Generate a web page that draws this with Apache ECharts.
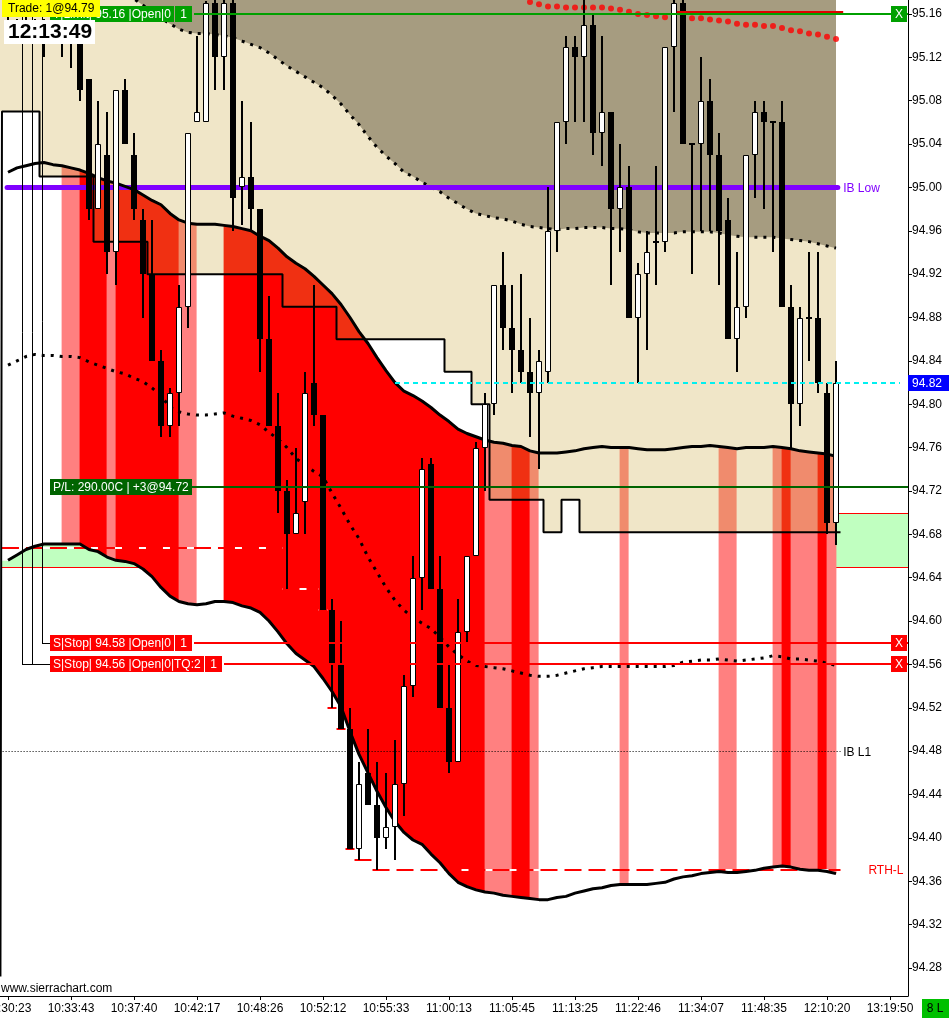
<!DOCTYPE html>
<html>
<head>
<meta charset="utf-8">
<title>Sierra Chart</title>
<script src="https://cdn.jsdelivr.net/npm/echarts@6.0.0/dist/echarts.min.js"></script>
<style>
html,body{margin:0;padding:0;background:#fff;overflow:hidden}
#chart{width:949px;height:1018px}
</style>
</head>
<body>
<div id="chart"></div>
<script>
// ================= DATA =================
const timeLabels = ['10:30:23','10:33:43','10:37:40','10:42:17','10:48:26','10:52:12','10:55:33','11:00:13','11:05:45','11:13:25','11:22:46','11:34:07','11:48:35','12:10:20','13:19:50'];
const timeLabelBars = [0,7,14,21,28,35,42,49,56,63,70,77,84,91,98];
const priceTicks = [94.28,94.32,94.36,94.40,94.44,94.48,94.52,94.56,94.60,94.64,94.68,94.72,94.76,94.80,94.84,94.88,94.92,94.96,95.00,95.04,95.08,95.12,95.16];

const opens = [
95.150,95.145,95.150,95.145,95.145,95.150,95.145,95.145,95.145,95.100,
94.980,95.030,94.940,95.090,95.030,94.970,94.920,94.840,94.780,94.810,
94.890,95.060,95.060,95.170,95.120,95.170,95.000,95.010,94.980,94.860,
94.780,94.720,94.680,94.710,94.820,94.790,94.610,94.560,94.500,94.390,
94.460,94.430,94.400,94.410,94.450,94.540,94.640,94.745,94.630,94.520,
94.470,94.590,94.660,94.760,94.800,94.910,94.870,94.850,94.830,94.810,
94.830,94.960,95.060,95.130,95.120,95.150,95.050,95.070,94.980,95.000,
94.880,94.920,94.950,94.950,95.130,95.170,95.040,95.040,95.080,95.030,
94.970,94.860,94.890,95.030,95.070,95.060,95.060,94.890,94.800,94.880,
94.880,94.810,94.690];
const highs = [
95.160,95.155,95.160,95.155,95.155,95.155,95.155,95.155,95.150,95.100,
95.080,95.070,95.090,95.100,95.050,94.980,94.970,94.850,94.815,94.910,
95.050,95.140,95.172,95.175,95.175,95.175,95.080,95.060,94.980,94.900,
94.810,94.730,94.760,94.830,94.910,94.790,94.620,94.600,94.520,94.470,
94.500,94.470,94.460,94.490,94.550,94.660,94.750,94.750,94.660,94.560,
94.620,94.660,94.765,94.810,94.910,94.940,94.910,94.920,94.880,94.850,
95.000,95.060,95.140,95.140,95.175,95.160,95.140,95.070,95.040,95.020,
94.930,94.960,95.020,95.130,95.175,95.175,95.040,95.120,95.100,95.050,
94.990,94.940,95.030,95.080,95.080,95.060,95.080,94.910,94.890,94.940,
94.940,94.820,94.840];
const lows = [
95.135,95.135,95.140,95.135,95.120,95.135,95.120,95.110,95.080,94.970,
94.980,94.920,94.910,95.040,94.970,94.880,94.840,94.770,94.770,94.780,
94.870,95.060,95.060,95.090,95.090,94.960,94.965,94.960,94.830,94.780,
94.700,94.630,94.680,94.680,94.780,94.610,94.520,94.500,94.390,94.380,
94.430,94.370,94.390,94.380,94.420,94.530,94.610,94.630,94.520,94.460,
94.470,94.580,94.660,94.720,94.790,94.850,94.810,94.820,94.770,94.740,
94.820,94.940,95.040,95.060,95.060,95.030,95.020,94.910,94.940,94.880,
94.820,94.850,94.910,94.940,95.070,95.040,94.920,94.960,94.960,94.910,
94.860,94.830,94.880,94.990,94.980,94.940,94.890,94.760,94.780,94.840,
94.810,94.680,94.670];
const closes = [
95.140,95.150,95.145,95.140,95.140,95.140,95.140,95.135,95.090,94.980,
95.040,94.940,95.090,95.040,94.980,94.920,94.840,94.780,94.810,94.890,
95.050,95.070,95.170,95.120,95.170,94.990,95.010,94.980,94.860,94.780,
94.720,94.680,94.700,94.810,94.790,94.610,94.560,94.500,94.390,94.450,
94.430,94.400,94.410,94.450,94.540,94.640,94.740,94.630,94.520,94.470,
94.590,94.660,94.760,94.800,94.910,94.870,94.850,94.830,94.810,94.840,
94.960,95.060,95.130,95.120,95.150,95.050,95.070,94.980,95.000,94.880,
94.920,94.940,94.950,95.130,95.170,95.040,95.040,95.080,95.030,94.960,
94.860,94.890,95.030,95.070,95.060,95.060,94.890,94.800,94.880,94.880,
94.820,94.690,94.820];

// upper solid band line (top of the coloured zone)
const bandUpper = [
95.014,95.018,95.020,95.022,95.023,95.021,95.020,95.018,95.016,95.013,
95.009,95.006,95.004,95.001,94.998,94.993,94.988,94.984,94.976,94.970,
94.967,94.966,94.966,94.966,94.965,94.964,94.962,94.960,94.955,94.951,
94.944,94.936,94.930,94.925,94.918,94.910,94.902,94.892,94.880,94.867,
94.856,94.843,94.831,94.820,94.812,94.808,94.803,94.797,94.790,94.784,
94.777,94.773,94.770,94.767,94.765,94.764,94.762,94.761,94.757,94.755,
94.755,94.755,94.756,94.757,94.759,94.760,94.761,94.760,94.760,94.760,
94.759,94.758,94.758,94.758,94.759,94.760,94.761,94.761,94.762,94.761,
94.760,94.759,94.760,94.760,94.760,94.761,94.760,94.759,94.757,94.756,
94.755,94.754,94.752];
// lower solid band line
const bandLower = [
94.656,94.661,94.666,94.669,94.671,94.671,94.671,94.671,94.671,94.666,
94.664,94.659,94.656,94.655,94.653,94.648,94.641,94.631,94.623,94.618,
94.616,94.615,94.616,94.618,94.618,94.617,94.614,94.612,94.608,94.600,
94.590,94.579,94.570,94.564,94.558,94.547,94.535,94.521,94.498,94.477,
94.460,94.443,94.428,94.415,94.405,94.398,94.394,94.385,94.377,94.367,
94.359,94.355,94.352,94.350,94.349,94.347,94.346,94.345,94.344,94.343,
94.343,94.345,94.346,94.349,94.351,94.353,94.354,94.356,94.357,94.357,
94.357,94.357,94.358,94.359,94.362,94.364,94.365,94.367,94.368,94.369,
94.368,94.368,94.369,94.370,94.372,94.373,94.374,94.373,94.371,94.370,
94.370,94.369,94.367];
// upper dotted line (boundary of the dark zone)
const upperDotted = [
95.233,95.230,95.227,95.225,95.222,95.218,95.215,95.211,95.206,95.202,
95.196,95.190,95.185,95.179,95.174,95.168,95.162,95.156,95.151,95.146,
95.143,95.142,95.142,95.141,95.140,95.138,95.135,95.132,95.129,95.124,
95.118,95.112,95.107,95.102,95.097,95.092,95.085,95.077,95.067,95.058,
95.047,95.037,95.029,95.022,95.014,95.010,95.005,95.000,94.996,94.990,
94.985,94.980,94.976,94.974,94.972,94.971,94.969,94.966,94.964,94.963,
94.962,94.961,94.962,94.962,94.963,94.963,94.963,94.962,94.962,94.961,
94.959,94.958,94.958,94.958,94.958,94.959,94.959,94.959,94.959,94.958,
94.956,94.955,94.954,94.954,94.954,94.954,94.953,94.952,94.951,94.950,
94.948,94.946,94.944];
// lower dotted line
const lowerDotted = [
94.836,94.840,94.844,94.846,94.845,94.845,94.844,94.844,94.843,94.839,
94.836,94.833,94.830,94.828,94.824,94.821,94.815,94.808,94.797,94.793,
94.791,94.790,94.790,94.791,94.792,94.789,94.787,94.785,94.781,94.774,
94.768,94.760,94.750,94.744,94.738,94.733,94.718,94.704,94.689,94.676,
94.659,94.645,94.631,94.619,94.610,94.603,94.598,94.593,94.585,94.576,
94.569,94.563,94.559,94.558,94.557,94.556,94.554,94.552,94.550,94.549,
94.549,94.550,94.552,94.554,94.556,94.557,94.558,94.558,94.558,94.558,
94.558,94.558,94.558,94.558,94.559,94.562,94.563,94.564,94.564,94.565,
94.564,94.563,94.564,94.565,94.566,94.568,94.567,94.565,94.565,94.564,
94.563,94.561,94.559];
// red dotted study (starts at bar 57)
const redDotsStart = 57;
const redDots = [95.173,95.171,95.169,95.167,95.167,95.166,95.166,95.166,95.166,95.166,
95.165,95.164,95.162,95.160,95.159,95.158,95.157,95.158,95.157,95.156,95.156,95.155,
95.154,95.153,95.151,95.150,95.150,95.149,95.149,95.147,95.145,95.144,95.142,95.141,95.139,95.137];
// step line (lower edge of the light zone)
const stepLevels = [
95.070,95.070,95.070,95.070,95.010,95.010,95.010,95.010,95.010,95.010,
94.950,94.950,94.950,94.950,94.950,94.950,94.920,94.920,94.920,94.920,
94.920,94.920,94.920,94.920,94.920,94.920,94.920,94.920,94.920,94.920,
94.920,94.890,94.890,94.890,94.890,94.890,94.890,94.860,94.860,94.860,
94.860,94.860,94.860,94.860,94.860,94.860,94.860,94.860,94.860,94.830,
94.830,94.830,94.800,94.800,94.712,94.712,94.712,94.712,94.712,94.712,
94.682,94.682,94.712,94.712,94.682,94.682,94.682,94.682,94.682,94.682,
94.682,94.682,94.682,94.682,94.682,94.682,94.682,94.682,94.682,94.682,
94.682,94.682,94.682,94.682,94.682,94.682,94.682,94.682,94.682,94.682,
94.682,94.682,94.682];
const stepPrevLevel = 94.272; // level before the first visible bar
// colour state of each segment between bar k and k+1 (0 none, 1 light, 2 strong)
const zoneState = [
0,0,0,0,0,0,1,1,2,2,2,1,2,2,2,2,2,2,2,1,1,0,0,0,
2,2,2,2,2,2,2,2,2,2,2,2,2,2,2,2,2,2,2,2,2,2,2,2,2,2,2,2,2,
1,1,1,2,2,1,
0,0,0,0,0,0,0,0,0,1,
0,0,0,0,0,0,0,0,0,0,1,1,0,0,0,0,1,2,1,1,1,2,1];
const greenZone = [94.70, 94.65];
const ibLow = 95.00, ibL1 = 94.48;
// running session low: [fromBar, toBar, price]
const runningLows = [[-0.67,30.5,94.667],[30.5,34.5,94.63],[34.5,35.5,94.61],[35.5,36.5,94.52],[36.5,37.5,94.50],[37.5,38.5,94.39],[38.5,40.5,94.38],[40.5,92.5,94.37]];
const orders = [
  {price:95.16, text:'T|Limit| 95.16 |Open|0', qty:'1', kind:'target'},
  {price:94.58, text:'S|Stop| 94.58 |Open|0', qty:'1', kind:'stop'},
  {price:94.56, text:'S|Stop| 94.56 |Open|0|TQ:2', qty:'1', kind:'stop'}
];
const position = {avg:94.7233, label:'P/L: 290.00C | +3@94.72'};
const lastPrice = 94.82;
const sessionHigh = {price:95.1618, fromBar:74.3, toBar:92.8};
const lastPriceLineFromBar = 43;
const tradeText = 'Trade: 1@94.79';
const clockText = '12:13:49';

// ================= CHART =================
const X_MIN = -8/9, X_MAX = 100;
const Y_MIN = 94.2541, Y_MAX = 95.1729;
const FONT = '12px "Liberation Sans"';
const zoneColors = ['#FFFFFF','#FF8080','#FF0000'];
const idx = opens.map((_, i) => i);
const mctx = document.createElement('canvas').getContext('2d');
function tw(t, f){ mctx.font = f; return mctx.measureText(t).width; }

const chart = echarts.init(document.getElementById('chart'), null, {renderer:'canvas', width:949, height:1018});

const zoneData = [[X_MIN+0.22, 0, 0, bandUpper[0], bandLower[0], bandUpper[0], bandLower[0]]]
  .concat(zoneState.map((s, k) => [k, k+1, s, bandUpper[k], bandLower[k], bandUpper[k+1], bandLower[k+1]]));

const series = [
  // green zone band
  {type:'custom', z:1, silent:true, clip:true,
   data:[[X_MIN+0.22, X_MAX, greenZone[0], greenZone[1]]],
   renderItem(p, api){
     const a = api.coord([api.value(0), api.value(2)]), b = api.coord([api.value(1), api.value(3)]);
     const ya = Math.round(a[1]) + 0.5, yb = Math.round(b[1]) + 0.5;
     return {type:'group', children:[
       {type:'rect', shape:{x:a[0], y:ya, width:b[0]-a[0], height:yb-ya}, style:{fill:'#C0FFC0'}},
       {type:'line', shape:{x1:a[0], y1:ya, x2:b[0], y2:ya}, style:{stroke:'#FF0000', lineWidth:1}},
       {type:'line', shape:{x1:a[0], y1:yb, x2:b[0], y2:yb}, style:{stroke:'#FF0000', lineWidth:1}}
     ]};
   }},
  // coloured zone between the two band lines
  {type:'custom', z:2, silent:true, clip:true, data:zoneData,
   renderItem(p, api){
     const x0 = api.value(0), x1 = api.value(1), col = zoneColors[api.value(2)];
     const pts = [api.coord([x0, api.value(3)]), api.coord([x1, api.value(5)]), api.coord([x1, api.value(6)]), api.coord([x0, api.value(4)])];
     return {type:'polygon', shape:{points:pts}, style:{fill:col, stroke:col, lineWidth:0.8}};
   }},
  // light translucent zone above the step line
  {type:'line', z:3, silent:true, step:'middle', symbol:'none', showSymbol:false,
   data:[[X_MIN, stepLevels[0]]].concat(idx.map(i => [i, stepLevels[i]])),
   lineStyle:{opacity:0, width:0},
   areaStyle:{origin:'end', color:'rgba(203,168,63,0.286)', opacity:1}},
  // dark zone above upper dotted line + dotted line
  {type:'line', z:4, silent:true, symbol:'none', showSymbol:false,
   data:idx.map(i => [i, upperDotted[i]]),
   lineStyle:{color:'#000', width:3, type:[3,6]},
   areaStyle:{origin:'end', color:'#A69C80', opacity:1}},
  // IB Low
  {type:'custom', z:5, silent:true, clip:false, data:[[ibLow]],
   renderItem(p, api){
     const a = api.coord([-0.1, api.value(0)]), b = api.coord([92.2, api.value(0)]);
     const t = api.coord([92.8, api.value(0)]);
     return {type:'group', children:[
       {type:'line', shape:{x1:a[0], y1:a[1], x2:b[0], y2:b[1]}, style:{stroke:'#8000FF', lineWidth:5, lineCap:'round'}},
       {type:'text', x:t[0], y:t[1]+1, style:{text:'IB Low', font:FONT, fill:'#8000FF', verticalAlign:'middle'}}
     ]};
   }},
  // IB L1
  {type:'custom', z:5, silent:true, clip:false, data:[[ibL1]],
   renderItem(p, api){
     const a = api.coord([-0.6, api.value(0)]), b = api.coord([92.5, api.value(0)]);
     const t = api.coord([92.8, api.value(0)]);
     const y = Math.round(a[1]) + 0.5;
     return {type:'group', children:[
       {type:'line', shape:{x1:a[0], y1:y, x2:b[0], y2:y}, style:{stroke:'#000', lineWidth:1, lineDash:[1,2]}},
       {type:'text', x:t[0], y:y+1, style:{text:'IB L1', font:FONT, fill:'#000', verticalAlign:'middle'}}
     ]};
   }},
  // running low
  {type:'custom', z:5, silent:true, clip:false, data:runningLows,
   renderItem(p, api){
     const a = api.coord([api.value(0), api.value(2)]), b = api.coord([api.value(1), api.value(2)]);
     const y = Math.round(a[1]);
     const ch = [
       {type:'line', shape:{x1:a[0], y1:y, x2:b[0], y2:y}, style:{stroke:'#FFFFFF', lineWidth:2}},
       {type:'line', shape:{x1:a[0], y1:y, x2:b[0], y2:y}, style:{stroke:'#FF0000', lineWidth:2, lineDash:[17,7]}}
     ];
     if (p.dataIndex === runningLows.length - 1) {
       const t = api.coord([95.6, api.value(2)]);
       ch.push({type:'text', x:t[0], y:y+1, style:{text:'RTH-L', font:FONT, fill:'#FF0000', verticalAlign:'middle'}});
     }
     return {type:'group', children:ch};
   }},
  // band lines
  {type:'line', z:6, silent:true, symbol:'none', showSymbol:false, data:idx.map(i => [i, bandUpper[i]]), lineStyle:{color:'#000', width:3}},
  {type:'line', z:6, silent:true, symbol:'none', showSymbol:false, data:idx.map(i => [i, bandLower[i]]), lineStyle:{color:'#000', width:3}},
  {type:'line', z:6, silent:true, symbol:'none', showSymbol:false, data:idx.map(i => [i, lowerDotted[i]]), lineStyle:{color:'#000', width:3, type:[3,6]}},
  {type:'line', z:6, silent:true, symbol:'none', showSymbol:false, step:'middle',
   data:[[-0.84, stepPrevLevel], [-0.5, stepLevels[0]]].concat(idx.map(i => [i, stepLevels[i]]), [[92.5, stepLevels[stepLevels.length-1]]]),
   lineStyle:{color:'#000', width:2}},
  {type:'scatter', z:6, silent:true, symbol:'circle', symbolSize:6,
   data:redDots.map((v, k) => [redDotsStart + k, v]), itemStyle:{color:'#FF0000'}},
  // candles
  {type:'custom', z:7, silent:true, clip:true,
   data:idx.map(i => [i, opens[i], highs[i], lows[i], closes[i]]),
   encode:{x:0, y:[1,2,3,4]},
   renderItem(p, api){
     const i = api.value(0), o = api.value(1), h = api.value(2), l = api.value(3), c = api.value(4);
     const cx = Math.round(api.coord([i, o])[0]);
     const yo = api.coord([i, o])[1], yc = api.coord([i, c])[1];
     const yh = Math.round(api.coord([i, h])[1]), yl = Math.round(api.coord([i, l])[1]);
     const top = Math.round(Math.min(yo, yc)), bot = Math.round(Math.max(yo, yc));
     const ch = [{type:'rect', shape:{x:cx-1, y:yh, width:2, height:Math.max(1, yl-yh)}, style:{fill:'#000'}}];
     if (bot - top <= 1) ch.push({type:'rect', shape:{x:cx-3, y:top-1, width:6, height:2}, style:{fill:'#000'}});
     else if (c > o) ch.push({type:'rect', shape:{x:cx-2.5, y:top+0.5, width:5, height:bot-top-1}, style:{fill:'#FFFFFF', stroke:'#000', lineWidth:1}});
     else ch.push({type:'rect', shape:{x:cx-3, y:top, width:6, height:bot-top}, style:{fill:'#000'}});
     return {type:'group', children:ch};
   }},
  // session high line
  {type:'custom', z:8, silent:true, clip:false, data:[[sessionHigh.fromBar, sessionHigh.toBar, sessionHigh.price]],
   renderItem(p, api){
     const a = api.coord([api.value(0), api.value(2)]), b = api.coord([api.value(1), api.value(2)]);
     return {type:'line', z2:5, shape:{x1:a[0], y1:Math.round(a[1]), x2:b[0], y2:Math.round(a[1])}, style:{stroke:'#E00000', lineWidth:2}};
   }},
  // orders
  {type:'custom', z:8, silent:true, clip:false, data:orders.map(o => [o.price]),
   renderItem(p, api){
     const o = orders[p.dataIndex];
     const cs = p.coordSys, right = cs.x + cs.width;
     const y = Math.round(api.coord([0, api.value(0)])[1]);
     const col = o.kind === 'stop' ? '#FF0000' : '#00A000';
     const L = cs.x + 50;
     const w1 = Math.round(tw(o.text, FONT)) + 6, w2 = Math.round(tw(o.qty, FONT)) + 10;
     const x2 = L + w1 + 1;
     const ch = [];
     const connectors = [[], [42], [22, 32]][p.dataIndex];
     connectors.forEach((cx, k) => {
       ch.push({type:'line', shape:{x1:cx+0.5, y1:0, x2:cx+0.5, y2:y+0.5}, style:{stroke:'#000', lineWidth:1}});
       if (k === 0) ch.push({type:'line', shape:{x1:cx, y1:y+0.5, x2:L, y2:y+0.5}, style:{stroke:'#000', lineWidth:1}});
     });
     ch.push(
       {type:'line', shape:{x1:x2+w2+2, y1:y, x2:right, y2:y}, style:{stroke:col, lineWidth:2}},
       {type:'rect', shape:{x:L, y:y-8, width:w1, height:16}, style:{fill:col}},
       {type:'text', x:L+3, y:y+1, style:{text:o.text, font:FONT, fill:'#FFFFFF', verticalAlign:'middle'}},
       {type:'rect', shape:{x:x2, y:y-8, width:w2, height:16}, style:{fill:col}},
       {type:'text', x:x2+w2/2, y:y+1, style:{text:o.qty, font:FONT, fill:'#FFFFFF', align:'center', verticalAlign:'middle'}},
       {type:'rect', shape:{x:right-17, y:y-8, width:16, height:16}, style:{fill:col}},
       {type:'text', x:right-9, y:y+1, style:{text:'X', font:FONT, fill:'#FFFFFF', align:'center', verticalAlign:'middle'}}
     );
     return {type:'group', children:ch};
   }},
  // position P/L
  {type:'custom', z:8, silent:true, clip:false, data:[[position.avg]],
   renderItem(p, api){
     const cs = p.coordSys, right = cs.x + cs.width;
     const y = Math.round(api.coord([0, api.value(0)])[1]);
     const L = cs.x + 50, w = Math.round(tw(position.label, FONT)) + 6;
     return {type:'group', children:[
       {type:'line', shape:{x1:L+w, y1:y, x2:right, y2:y}, style:{stroke:'#006400', lineWidth:2}},
       {type:'rect', shape:{x:L, y:y-8, width:w, height:16}, style:{fill:'#006400'}},
       {type:'text', x:L+3, y:y+1, style:{text:position.label, font:FONT, fill:'#FFFFFF', verticalAlign:'middle'}}
     ]};
   }},
  // last price line & axis marker
  {type:'custom', z:9, silent:true, clip:false, data:[[lastPriceLineFromBar, lastPrice]],
   renderItem(p, api){
     const cs = p.coordSys, right = cs.x + cs.width;
     const a = api.coord([api.value(0), api.value(1)]);
     const y = Math.round(a[1]);
     return {type:'group', children:[
       {type:'line', shape:{x1:a[0], y1:y, x2:right-8, y2:y}, style:{stroke:'#00F0F0', lineWidth:2, lineDash:[5,4]}},
       {type:'rect', shape:{x:right, y:y-8, width:41, height:16}, style:{fill:'#0000FF'}},
       {type:'text', x:right+4, y:y+1, style:{text:api.value(1).toFixed(2), font:FONT, fill:'#FFFFFF', verticalAlign:'middle'}}
     ]};
   }}
];

const option = {
  animation:false,
  backgroundColor:'#FFFFFF',
  textStyle:{fontFamily:'Liberation Sans'},
  grid:{left:0, right:41, top:0, bottom:22, containLabel:false, outerBoundsMode:'none'},
  xAxis:{
    type:'value', min:X_MIN, max:X_MAX, splitLine:{show:false},
    axisLine:{show:true, onZero:false, lineStyle:{color:'#000', width:1}},
    axisTick:{show:true, length:4, customValues:timeLabelBars, lineStyle:{color:'#000'}},
    axisLabel:{show:true, customValues:timeLabelBars, color:'#000', fontFamily:'Liberation Sans', fontSize:12, margin:7,
      formatter:v => timeLabels[Math.round(v/7)]}
  },
  yAxis:{
    type:'value', position:'right', min:Y_MIN, max:Y_MAX, splitLine:{show:false},
    axisLine:{show:true, onZero:false, lineStyle:{color:'#000', width:1}},
    axisTick:{show:true, length:4, customValues:priceTicks, lineStyle:{color:'#000'}},
    axisLabel:{show:true, customValues:priceTicks, color:'#000', fontFamily:'Liberation Sans', fontSize:12, margin:4,
      formatter:v => v.toFixed(2)}
  },
  series:series,
  graphic:[
    {type:'rect', z:100, shape:{x:2, y:0, width:98, height:17}, style:{fill:'#FFFF00'}},
    {type:'text', z:101, x:8, y:8.5, style:{text:tradeText, font:FONT, fill:'#000', verticalAlign:'middle'}},
    {type:'rect', z:100, shape:{x:4, y:20, width:91, height:24}, style:{fill:'#FFFFFF'}},
    {type:'text', z:101, x:8, y:32, style:{text:clockText, font:'bold 21px "Liberation Sans"', fill:'#000', verticalAlign:'middle'}},
    {type:'text', z:101, x:1, y:989, style:{text:'www.sierrachart.com', font:FONT, fill:'#000', verticalAlign:'middle'}},
    {type:'rect', z:100, shape:{x:922, y:999, width:27, height:19}, style:{fill:'#00C000'}},
    {type:'text', z:101, x:935, y:1009, style:{text:'8 L', font:FONT, fill:'#000', align:'center', verticalAlign:'middle'}}
  ]
};
chart.setOption(option);
</script>
</body>
</html>
